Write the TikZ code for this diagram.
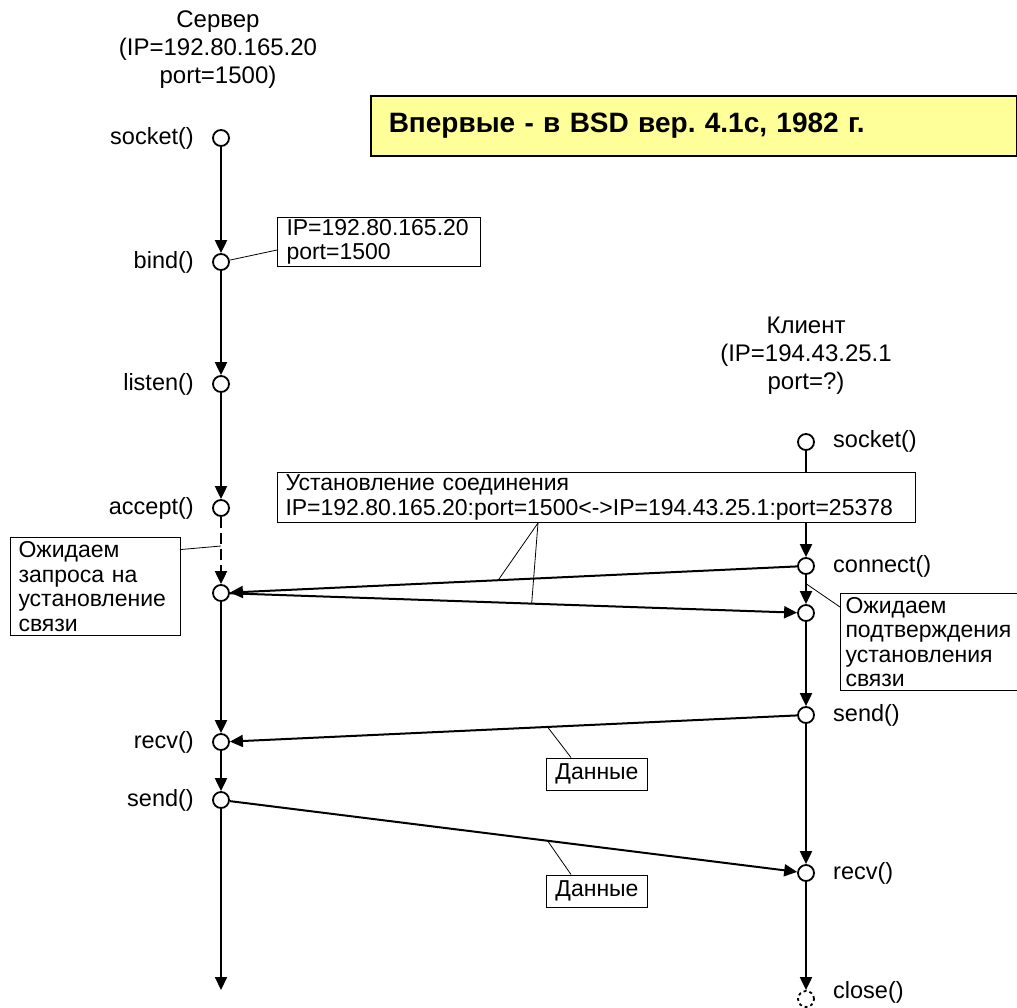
\documentclass[tikz,border=0pt]{standalone}
\usepackage{fontspec}
\setmainfont{Liberation Sans}
\usetikzlibrary{arrows.meta}
\definecolor{noteyellow}{RGB}{255,255,153}
\frenchspacing
\begin{document}
\begin{tikzpicture}[x=1pt,y=-1pt,
  pt/.style={circle, draw, line width=1.8pt, fill=white, minimum size=16pt, inner sep=0pt},
  flow/.style={line width=2pt, -{Triangle[length=13pt,width=12pt]}},
  lbl/.style={font=\fontsize{23.5}{26}\selectfont, inner sep=0pt},
  hdr/.style={font=\fontsize{24}{28}\selectfont, inner sep=0pt, align=center},
  lead/.style={line width=0.8pt},
  tbox/.style={draw, line width=1pt, fill=white, font=\fontsize{23}{24.5}\selectfont, align=left, anchor=north west, inner ysep=0pt},
  dbox/.style={draw, line width=1pt, fill=white, font=\fontsize{23}{24.5}\selectfont, minimum width=101pt, minimum height=32pt, inner sep=0pt},
]
\useasboundingbox (0,0) rectangle (1017,1007);
\fill[white] (0,0) rectangle (1017,1007);

% server points
\node[pt] (ssock) at (221,138) {};
\node[pt] (sbind) at (221,262) {};
\node[pt] (slist) at (221,384) {};
\node[pt] (sacc) at (221,508) {};
\node[pt] (swait) at (221,593) {};
\node[pt] (srecv) at (221,742) {};
\node[pt] (ssend) at (221,800) {};
\coordinate (send) at (221,990);

% client points
\node[pt] (csock) at (806,442) {};
\node[pt] (cconn) at (806,566) {};
\node[pt] (cwait) at (806,613) {};
\node[pt] (csend) at (806,715) {};
\node[pt] (crecv) at (806,873) {};
\node[pt, dashed] (cclose) at (806,999) {};

% headers
\node[hdr] (shdr) at (218,50) {Сервер\\(IP=192.80.165.20\\port=1500)};
\node[hdr] (chdr) at (806,356) {Клиент\\(IP=194.43.25.1\\port=?)};

% labels
\node[lbl, anchor=east] (lssock) at (194,138) {socket()};
\node[lbl, anchor=east] (lsbind) at (194,262) {bind()};
\node[lbl, anchor=east] (lslist) at (194,384) {listen()};
\node[lbl, anchor=east] (lsacc) at (194,508) {accept()};
\node[lbl, anchor=east] (lsrecv) at (194,742) {recv()};
\node[lbl, anchor=east] (lssend) at (194,800) {send()};
\node[lbl, anchor=west] (lcsock) at (833,441) {socket()};
\node[lbl, anchor=west] (lcconn) at (833,566) {connect()};
\node[lbl, anchor=west] (lcsend) at (833,715) {send()};
\node[lbl, anchor=west] (lcrecv) at (833,873) {recv()};
\node[lbl, anchor=west] (lcclose) at (833,992) {close()};

% server flow
\draw[flow] (ssock) -- (sbind);
\draw[flow] (sbind) -- (slist);
\draw[flow] (slist) -- (sacc);
\draw[flow, dash pattern=on 11pt off 5pt] (sacc) -- (swait);
\draw[flow] (swait) -- (srecv);
\draw[flow] (srecv) -- (ssend);
\draw[flow] (ssend) -- (send);

% client flow
\draw[flow] (csock) -- (cconn);
\draw[flow] (cconn) -- (cwait) coordinate[pos=0.3] (lc);
\draw[flow] (cwait) -- (csend);
\draw[flow] (csend) -- (crecv);
\draw[flow] (crecv) -- (cclose);

% messages
\draw[flow] (cconn) -- (swait) coordinate[pos=0.527] (la);
\draw[flow] (swait) -- (cwait) coordinate[pos=0.532] (lb);
\draw[flow] (csend) -- (srecv) coordinate[pos=0.44] (l1);
\draw[flow] (ssend) -- (crecv) coordinate[pos=0.56] (l2);

% boxes
\node[draw, line width=1.5pt, fill=noteyellow, anchor=north west, minimum width=646pt, minimum height=60pt,
      text width=610pt, inner xsep=18pt, align=left, font=\bfseries\fontsize{28}{30}\selectfont]
      (note) at (370,95) {Впервые - в BSD вер. 4.1c, 1982 г.};
\node[tbox, minimum width=203pt, minimum height=49pt, text width=185pt, inner xsep=9pt] (bbox) at (277,217)
      {IP=192.80.165.20\\port=1500};
\node[tbox, minimum width=638pt, minimum height=50pt, text width=622pt, inner xsep=8pt] (cbox) at (277,472)
      {Установление соединения\\IP=192.80.165.20:port=1500<->IP=194.43.25.1:port=25378};
\node[tbox, minimum width=170pt, minimum height=98pt, text width=154pt, inner xsep=8pt] (wbox) at (10,537)
      {Ожидаем\\запроса на\\установление\\связи};
\node[tbox, minimum width=200pt, minimum height=97pt, text width=190pt, inner xsep=5pt] (w2box) at (840,593)
      {Ожидаем\\подтверждения\\установления\\связи};
\node[dbox] (d1box) at (597,774) {Данные};
\node[dbox] (d2box) at (597,891) {Данные};

% leaders
\coordinate (dl) at (221,546);
\draw[lead] (sbind) -- ([yshift=-8pt]bbox.west);
\draw[lead] ([yshift=37pt]wbox.east) -- (dl);
\draw[lead] (lc) -- ([yshift=-14pt]w2box.north west);
\draw[lead] ([xshift=261pt]cbox.south west) -- (la);
\draw[lead] ([xshift=261pt]cbox.south west) -- (lb);
\draw[lead] (l1) -- ([xshift=25pt]d1box.north west);
\draw[lead] (l2) -- ([xshift=25pt]d2box.north west);
\end{tikzpicture}
\end{document}
